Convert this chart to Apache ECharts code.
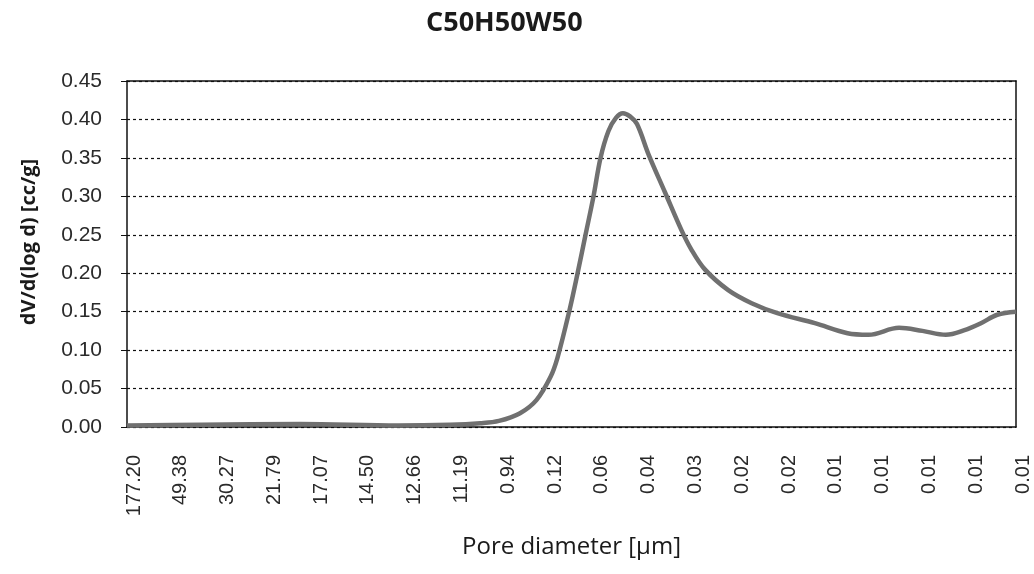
<!DOCTYPE html>
<html>
<head>
<meta charset="utf-8">
<script src="https://cdn.jsdelivr.net/npm/echarts@6/dist/echarts.min.js"></script>
<style>html,body{margin:0;padding:0;background:#fff}#c{width:1034px;height:574px}</style>
</head>
<body>
<div id="c"></div>
<script>
const chartTitle = 'C50H50W50';
const xAxisName = 'Pore diameter [\u00b5m]';
const yAxisName = 'dV/d(log d) [cc/g]';
const xTickLabels = ['177.20','49.38','30.27','21.79','17.07','14.50','12.66','11.19','0.94','0.12','0.06','0.04','0.03','0.02','0.02','0.01','0.01','0.01','0.01','0.01'];
// curve positions along the category axis (in tick units) and values
const xPos = [0, 1.6, 3.7, 5.8, 6.9, 7.55, 7.95, 8.4, 8.75, 9.05, 9.2, 9.45, 9.63, 9.8, 9.97, 10.12, 10.29, 10.45, 10.6, 10.75, 10.9, 11.15, 11.5, 11.85, 12.05, 12.35, 12.85, 13.35, 13.9, 14.7, 15.4, 15.85, 16.5, 17.0, 17.5, 17.9, 18.25, 18.6, 19.0];
const yVals = [0.002, 0.003, 0.004, 0.002, 0.003, 0.005, 0.008, 0.018, 0.035, 0.065, 0.09, 0.15, 0.2, 0.25, 0.3, 0.35, 0.385, 0.402, 0.408, 0.404, 0.394, 0.354, 0.305, 0.256, 0.232, 0.205, 0.178, 0.161, 0.148, 0.135, 0.122, 0.12, 0.129, 0.125, 0.12, 0.126, 0.135, 0.146, 0.15];

const chart = echarts.init(document.getElementById('c'), null, {renderer: 'canvas'});
const pts = xPos.map((x, i) => [x, yVals[i]]);
chart.setOption({
  animation: false,
  backgroundColor: '#fff',
  title: {
    text: chartTitle, left: 421, top: 5,
    textStyle: {fontFamily: 'Open Sans', fontWeight: 'bold', fontSize: 27, color: '#1a1a1a'}
  },
  graphic: [{
    type: 'text', x: 29, y: 242, rotation: Math.PI / 2,
    style: {text: yAxisName, fontFamily: 'Open Sans', fontWeight: 'bold', fontSize: 20,
      fill: '#1a1a1a', align: 'center', verticalAlign: 'middle'}
  }],
  grid: {left: 127, right: 18, top: 81, bottom: 147, containLabel: false},
  xAxis: [{
    type: 'value', min: 0, max: 19, interval: 1,
    name: xAxisName, nameLocation: 'middle', nameGap: 108,
    nameTextStyle: {fontFamily: 'Open Sans', fontSize: 24, color: '#1a1a1a'},
    axisLine: {show: true, onZero: false, lineStyle: {color: '#111', width: 1.5}},
    axisTick: {show: false},
    splitLine: {show: false},
    axisLabel: {
      rotate: 90, margin: 28, fontFamily: 'Liberation Sans', fontSize: 20, color: '#2a2a2a',
      verticalAlign: 'top', lineHeight: 14,
      formatter: v => xTickLabels[Math.round(v)] || ''
    }
  }, {
    type: 'value', position: 'top', min: 0, max: 19,
    axisLine: {show: true, onZero: false, lineStyle: {color: '#111', width: 1.5}},
    axisTick: {show: false}, axisLabel: {show: false}, splitLine: {show: false}
  }],
  yAxis: [{
    type: 'value', min: 0, max: 0.45, interval: 0.05,
    axisLine: {show: true, onZero: false, lineStyle: {color: '#111', width: 1.5}},
    axisTick: {show: true, length: 6, lineStyle: {color: '#111'}},
    axisLabel: {margin: 25, fontFamily: 'Liberation Sans', fontSize: 21, color: '#2a2a2a',
      formatter: v => v.toFixed(2)},
    splitLine: {show: true, lineStyle: {color: '#111', width: 1.2, type: [3, 3]}}
  }, {
    type: 'value', position: 'right', min: 0, max: 0.45,
    axisLine: {show: true, onZero: false, lineStyle: {color: '#111', width: 1.5}},
    axisTick: {show: false}, axisLabel: {show: false}, splitLine: {show: false}
  }],
  series: [{
    type: 'line', data: pts, smooth: 0.35, symbol: 'none',
    xAxisIndex: 0, yAxisIndex: 0,
    lineStyle: {color: '#707070', width: 4.5}
  }]
});
</script>
</body>
</html>
